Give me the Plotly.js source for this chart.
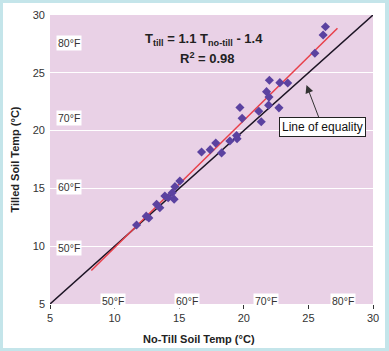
<!DOCTYPE html>
<html>
<head>
<meta charset="utf-8">
<script src="https://cdn.plot.ly/plotly-3.0.1.min.js"></script>
<style>
  html, body { margin: 0; padding: 0; background: #c4e5ea; }
  #frame { position: absolute; left: 0; top: 0; width: 389px; height: 351px; background: #c4e5ea; }
  #chart { position: absolute; left: 3px; top: 3px; width: 382px; height: 345px; background: #ffffff; }
</style>
</head>
<body>
<div id="frame"><div id="chart"></div></div>
<script>
// Measured points: no-till soil temp (x) vs tilled soil temp (y), °C
const noTill = [11.70, 12.45, 12.65, 13.25, 13.50, 13.89, 14.15, 14.46, 14.61, 14.67, 15.05,
                16.73, 17.40, 17.83, 18.28, 18.92, 19.44, 19.48, 19.70, 19.87,
                21.16, 21.35, 21.76, 21.95, 21.92, 21.98, 22.79, 22.72, 23.40,
                25.50, 26.14, 26.32];
const tilled = [11.83, 12.60, 12.45, 13.62, 13.33, 14.34, 14.20, 14.63, 14.06, 15.15, 15.64,
                18.15, 18.35, 18.92, 18.07, 19.10, 19.58, 19.30, 22.00, 21.06,
                21.67, 20.77, 23.37, 22.90, 22.20, 24.35, 24.15, 21.97, 24.12,
                26.69, 28.27, 28.99];
// Regression line ends
const fitX = [8.2, 27.25];
const fitY = [7.9, 28.85];
// Line of equality
const eqX = [5, 30];
const eqY = [5, 30];
// Axis ticks
const tickVals = [5, 10, 15, 20, 25, 30];
const tickText = ['5', '10', '15', '20', '25', '30'];
// Fahrenheit reference labels
const fLabels = ['50°F', '60°F', '70°F', '80°F'];
const fLeftY = [9.84, 15.15, 21.09, 27.58];
const fBottomX = [9.86, 15.6, 21.69, 27.65];

const font = '"Liberation Sans", Arial, sans-serif';

const traces = [
  { x: eqX, y: eqY, mode: 'lines', line: { color: '#1c1424', width: 1.5 }, hoverinfo: 'skip', showlegend: false },
  { x: fitX, y: fitY, mode: 'lines', line: { color: '#e8404a', width: 1.5 }, hoverinfo: 'skip', showlegend: false },
  { x: noTill, y: tilled, mode: 'markers', type: 'scatter',
    marker: { symbol: 'diamond', size: 7, color: '#5b42a0' }, showlegend: false }
];

const annotations = [];
fLabels.forEach((t, i) => {
  annotations.push({ x: 6.47, y: fLeftY[i], xref: 'x', yref: 'y', text: t, showarrow: false,
    bgcolor: '#ffffff', font: { family: font, size: 10.5, color: '#333' }, borderpad: 1 });
  annotations.push({ x: fBottomX[i], y: 5.3, xref: 'x', yref: 'y', text: t, showarrow: false,
    bgcolor: '#ffffff', font: { family: font, size: 10.5, color: '#333' }, borderpad: 1 });
});
annotations.push({ x: 16.95, y: 27.84, xref: 'x', yref: 'y', showarrow: false,
  text: '<b>T<sub>till</sub> = 1.1 T<sub>no-till</sub> - 1.4</b>',
  font: { family: font, size: 13, color: '#222' } });
annotations.push({ x: 17.2, y: 26.28, xref: 'x', yref: 'y', showarrow: false,
  text: '<b>R<sup>2</sup> = 0.98</b>',
  font: { family: font, size: 13, color: '#222' } });
annotations.push({ x: 24.85, y: 23.94, xref: 'x', yref: 'y', ax: 15.8, ay: 41.5,
  text: 'Line of equality', showarrow: true, arrowhead: 2, arrowsize: 1.6, arrowwidth: 1,
  arrowcolor: '#333', bgcolor: '#ffffff', bordercolor: '#222', borderwidth: 1, borderpad: 2,
  font: { family: font, size: 12, color: '#111' } });
// x-axis title as annotation (placed as in the picture)
annotations.push({ x: 0.461, y: 0, xref: 'paper', yref: 'paper', yshift: -27, yanchor: 'top',
  showarrow: false, text: '<b>No-Till Soil Temp (°C)</b>',
  font: { family: font, size: 11, color: '#222' } });

const layout = {
  width: 382, height: 345,
  margin: { l: 47, r: 12, t: 12, b: 44 },
  paper_bgcolor: '#ffffff',
  plot_bgcolor: '#e9d1e6',
  font: { family: font, size: 11, color: '#333' },
  xaxis: {
    range: [5, 30], tickvals: tickVals, ticktext: tickText,
    ticks: 'outside', ticklen: 4, tickcolor: '#333', showgrid: false, zeroline: false, showline: false,
    tickfont: { family: font, size: 11, color: '#333' }
  },
  yaxis: {
    range: [5, 30], tickvals: tickVals, ticktext: tickText,
    ticks: '', showgrid: true, gridcolor: '#ffffff', gridwidth: 1, zeroline: false, showline: false,
    ticklabelstandoff: 4,
    tickfont: { family: font, size: 11, color: '#333' },
    title: { text: '<b>Tilled Soil Temp (°C)</b>', standoff: 10, font: { family: font, size: 11, color: '#222' } }
  },
  annotations: annotations,
  showlegend: false
};

Plotly.newPlot('chart', traces, layout, { displayModeBar: false, staticPlot: true });
</script>
</body>
</html>
